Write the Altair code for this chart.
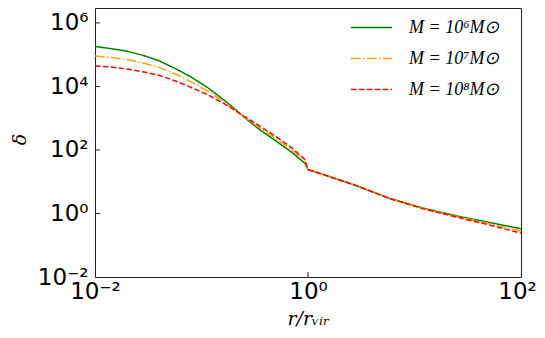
import altair as alt
import pandas as pd

# radius r / r_vir
radius = [0.01, 0.01413, 0.01995, 0.02818, 0.03981, 0.05623, 0.07943, 0.1122,
          0.1585, 0.1995, 0.2512, 0.3548, 0.5012, 0.7079, 0.9333,
          1.0, 1.413, 2.818, 5.888, 12.02, 25.12, 50.12, 100.0]

# overdensity delta for each halo mass
delta_m6 = [1.82e5, 1.55e5, 1.29e5, 9.55e4, 6.46e4, 3.72e4, 2.0e4, 9550,
            3981, 2138, 1072, 427, 191, 83.2, 38.0,
            24.0, 16.6, 7.59, 2.95, 1.48, 0.832, 0.525, 0.331]
delta_m7 = [9.12e4, 8.13e4, 7.08e4, 5.50e4, 3.98e4, 2.51e4, 1.41e4, 7413,
            3467, 1950, 1096, 490, 224, 97.7, 43.7,
            24.0, 16.6, 7.59, 2.95, 1.45, 0.794, 0.479, 0.282]
delta_m8 = [4.47e4, 4.07e4, 3.55e4, 2.88e4, 2.24e4, 1.51e4, 9333, 5623,
            3020, 1905, 1148, 550, 263, 115, 50.1,
            24.0, 16.6, 7.59, 2.95, 1.41, 0.759, 0.437, 0.240]

labels = ["M = 10⁶M⊙", "M = 10⁷M⊙", "M = 10⁸M⊙"]
colors = ["green", "orange", "red"]
dashes = [[1, 0], [9.6, 2.4, 1.5, 2.4], [5.5, 2.4]]

x_ticks = [0.01, 1, 100]
y_ticks = [0.01, 1, 100, 1e4, 1e6]
y_inner_ticks = [1, 100, 1e4, 1e6]
x_inner_ticks = [1]

rows = []
for lab, vals in zip(labels, [delta_m6, delta_m7, delta_m8]):
    for r, d in zip(radius, vals):
        rows.append({"r": r, "delta": d, "series": lab})
df = pd.DataFrame(rows)

W, H = 426, 269

label_expr = ("datum.value < 0.05 ? '10⁻²' : datum.value < 5 ? '10⁰' : "
              "datum.value < 500 ? '10²' : datum.value < 5e4 ? '10⁴' : '10⁶'")

x_axis = alt.Axis(values=x_ticks, labelExpr=label_expr, title="r/rᵥᵢᵣ",
                  grid=False, ticks=False, domain=False, labelFlush=False,
                  labelOverlap=False, labelPadding=3, titlePadding=6,
                  labelOffset=alt.condition("datum.value > 50",
                                            alt.value(-4), alt.value(0)))
y_axis = alt.Axis(values=y_ticks, labelExpr=label_expr, title="δ",
                  grid=False, ticks=False, domain=False, labelFlush=False,
                  labelOverlap=False, labelPadding=7, titleX=-66, titleY=131)

x_scale = alt.Scale(type="log", domain=[0.01, 100], nice=False)
y_scale = alt.Scale(type="log", domain=[0.01, 10 ** 6.47], nice=False)

leg = alt.Legend(title=None, orient="none", legendX=255, legendY=-2,
                 symbolType="stroke", symbolSize=1681, symbolStrokeWidth=1.5,
                 labelOffset=16, rowPadding=0, padding=0,
                 labelFont="Liberation Serif", labelFontStyle="italic",
                 labelFontSize=18, labelColor="black")

lines = alt.Chart(df).mark_line(strokeWidth=1.5, clip=True).encode(
    x=alt.X("r:Q", scale=x_scale, axis=x_axis),
    y=alt.Y("delta:Q", scale=y_scale, axis=y_axis),
    color=alt.Color("series:N", scale=alt.Scale(domain=labels, range=colors),
                    legend=leg, sort=labels),
    strokeDash=alt.StrokeDash("series:N",
                              scale=alt.Scale(domain=labels, range=dashes),
                              legend=leg, sort=labels),
    order=alt.Order("r:Q"),
)

ytick = alt.Chart(pd.DataFrame({"delta": y_inner_ticks})).mark_rule(
    color="#222", strokeWidth=1).encode(
    y=alt.Y("delta:Q", scale=y_scale, axis=y_axis),
    x=alt.value(0), x2=alt.value(5))

xtick = alt.Chart(pd.DataFrame({"r": x_inner_ticks})).mark_rule(
    color="#222", strokeWidth=1).encode(
    x=alt.X("r:Q", scale=x_scale, axis=x_axis),
    y=alt.value(H), y2=alt.value(H - 5))

chart = alt.layer(lines, ytick, xtick).properties(
    width=W, height=H,
    autosize=alt.AutoSizeParams(type="none"),
    padding={"left": 87, "top": 0, "right": 16, "bottom": 53},
).configure_view(stroke="#222", strokeWidth=1).configure_axis(
    labelFont="DejaVu Sans", labelFontSize=23, labelColor="black",
    titleFont="DejaVu Serif", titleFontStyle="italic", titleFontSize=19,
    titleFontWeight="normal", titleColor="black",
)

chart.save("out.html", embed_options={"renderer": "svg", "actions": False})
